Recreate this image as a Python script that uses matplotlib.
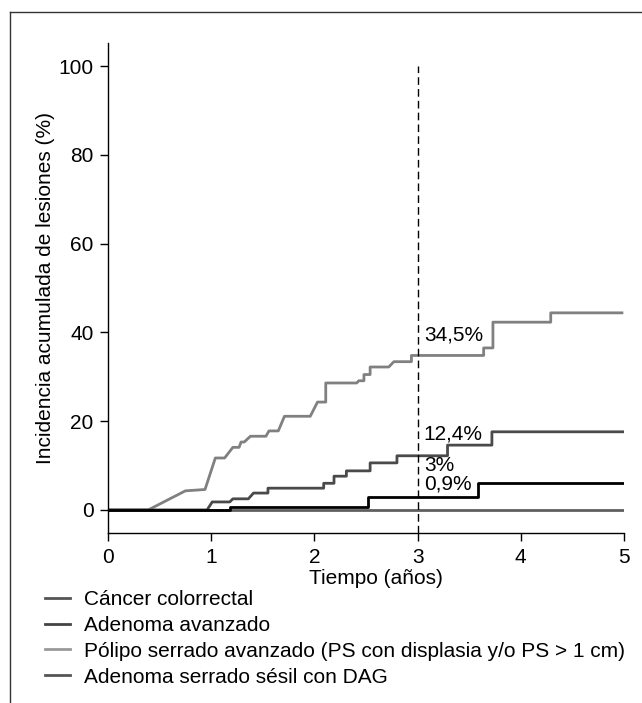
import matplotlib
matplotlib.use("Agg")
import matplotlib.pyplot as plt
from matplotlib.lines import Line2D

plt.rcParams['font.family'] = ['Liberation Sans', 'DejaVu Sans']

# curvas (anios, %)
t_polipo = [0, 0.39, 0.75, 0.94, 1.04, 1.13, 1.21, 1.27, 1.29, 1.32, 1.38, 1.53, 1.56, 1.65,
            1.71, 1.96, 2.03, 2.11, 2.11, 2.41, 2.43, 2.48, 2.48, 2.54, 2.54, 2.72, 2.77,
            2.94, 2.94, 3.64, 3.64, 3.73, 3.73, 4.29, 4.29, 4.98]
v_polipo = [0, 0, 4.3, 4.6, 11.7, 11.7, 14.1, 14.1, 15.3, 15.3, 16.6, 16.6, 17.8, 17.8,
            21.1, 21.1, 24.3, 24.3, 28.6, 28.6, 29.1, 29.1, 30.5, 30.5, 32.2, 32.2, 33.4,
            33.4, 34.8, 34.8, 36.5, 36.5, 42.3, 42.3, 44.4, 44.4]

t_adenoma = [0, 0.96, 1.01, 1.18, 1.21, 1.36, 1.41, 1.55, 1.55, 2.09, 2.09, 2.19, 2.19,
             2.31, 2.31, 2.54, 2.54, 2.80, 2.80, 3.29, 3.29, 3.72, 3.72, 5.0]
v_adenoma = [0, 0, 1.8, 1.8, 2.5, 2.5, 3.8, 3.8, 4.9, 4.9, 6.0, 6.0, 7.6, 7.6, 8.8, 8.8,
             10.6, 10.6, 12.2, 12.2, 14.6, 14.6, 17.6, 17.6]

t_dag = [0, 1.18, 1.18, 2.52, 2.52, 3.59, 3.59, 5.0]
v_dag = [0, 0, 0.6, 0.6, 2.85, 2.85, 6.0, 6.0]

t_ccr = [0, 5.0]
v_ccr = [0, 0]

etiquetas = ["34,5%", "12,4%", "3%", "0,9%"]
etiq_y = [39.5, 17.0, 10.1, 5.8]

leyenda = ["Cáncer colorrectal", "Adenoma avanzado",
           "Pólipo serrado avanzado (PS con displasia y/o PS > 1 cm)",
           "Adenoma serrado sésil con DAG"]
leyenda_col = ["#555555", "#444444", "#999999", "#555555"]

FS = 15

fig = plt.figure(figsize=(6.42, 7.03), dpi=100)
ax = fig.add_axes([108 / 642, 1 - 533 / 703, 516 / 642, 490 / 703])

ax.plot(t_ccr, v_ccr, color="#5f5f5f", lw=2.0)
ax.plot(t_polipo, v_polipo, color="#808080", lw=2.0)
ax.plot(t_adenoma, v_adenoma, color="#4a4a4a", lw=2.0)
ax.plot(t_dag, v_dag, color="black", lw=2.0)

ax.vlines(3, -5.2, 100, colors="black", lw=1.0, linestyles=(0, (5.5, 3)))

for s, y in zip(etiquetas, etiq_y):
    ax.text(3.06, y, s, fontsize=FS, ha="left", va="center")

ax.set_xlim(0, 5)
ax.set_ylim(-5.2, 105.2)
ax.set_xticks([0, 1, 2, 3, 4, 5])
ax.set_yticks([0, 20, 40, 60, 80, 100])
ax.tick_params(labelsize=FS, length=5.8, width=1.0, direction="out")
ax.tick_params(axis="y", pad=4.5)
ax.tick_params(axis="x", pad=5)
for side in ["top", "right"]:
    ax.spines[side].set_visible(False)
for side in ["left", "bottom"]:
    ax.spines[side].set_linewidth(1.0)

ax.set_xlabel("Tiempo (años)", fontsize=FS)
ax.xaxis.set_label_coords(0.519, -0.074)
ax.set_ylabel("Incidencia acumulada de lesiones (%)", fontsize=FS)
ax.yaxis.set_label_coords(-0.103, 0.5)

handles = [Line2D([], [], color=c, lw=2.0) for c in leyenda_col]
fig.legend(handles, leyenda, loc="upper left", bbox_to_anchor=(45 / 642, 1 - 590 / 703),
           frameon=False, fontsize=FS, handlelength=1.2, handletextpad=0.67,
           labelspacing=0.33, borderpad=0, borderaxespad=0)

# marco exterior (solo izquierda y arriba quedan en la imagen)
fig.add_artist(Line2D([10 / 642, 10 / 642], [0, 1 - 12 / 703], color="#333333", lw=1.0))
fig.add_artist(Line2D([10 / 642, 1], [1 - 12 / 703, 1 - 12 / 703], color="#333333", lw=1.0))

fig.savefig("out.png", dpi=100)
